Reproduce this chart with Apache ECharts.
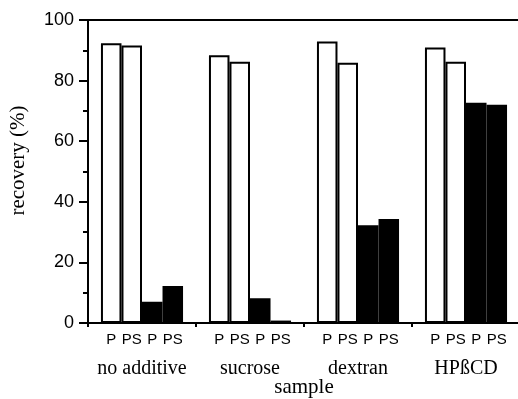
<!DOCTYPE html>
<html>
<head>
<meta charset="utf-8">
<script src="https://cdn.jsdelivr.net/npm/echarts@6/dist/echarts.min.js"></script>
<style>html,body{margin:0;padding:0;background:#fff;}#c{width:518px;height:399px;}</style>
</head>
<body>
<div id="c"></div>
<script>
const categories = ['no additive', 'sucrose', 'dextran', 'HPßCD'];
const barLabels = ['P', 'PS', 'P', 'PS'];
const pWhite = [92.3, 88.4, 92.9, 90.9];
const psWhite = [91.6, 86.2, 85.9, 86.2];
const pBlack = [7.0, 8.2, 32.3, 72.7];
const psBlack = [12.2, 0.8, 34.3, 72.0];
const yTicks = [0, 20, 40, 60, 80, 100];

const seriesValues = [pWhite, psWhite, pBlack, psBlack];
const fills = ['#ffffff', '#ffffff', '#000000', '#000000'];

const chart = echarts.init(document.getElementById('c'), null, {renderer: 'canvas'});
chart.setOption({
  backgroundColor: '#ffffff',
  animation: false,
  grid: {left: 88, top: 20, right: -2, bottom: 76, containLabel: false, outerBoundsMode: 'none'},
  xAxis: [{
    type: 'category',
    data: categories,
    name: 'sample',
    nameLocation: 'middle',
    nameGap: 54,
    nameMoveOverlap: false,
    nameTextStyle: {fontFamily: 'Liberation Serif', fontSize: 21, color: '#000'},
    axisLine: {lineStyle: {color: '#000', width: 2}},
    axisTick: {show: true, length: 4, lineStyle: {color: '#000', width: 2}},
    axisLabel: {fontFamily: 'Liberation Serif', fontSize: 20, color: '#000', margin: 36, interval: 0, hideOverlap: false},
    splitLine: {show: false}
  }, {
    type: 'category',
    data: categories,
    position: 'top',
    axisLine: {lineStyle: {color: '#000', width: 2}},
    axisTick: {show: false},
    axisLabel: {show: false}
  }],
  yAxis: {
    type: 'value',
    min: 0, max: 100, interval: 20,
    name: 'recovery (%)',
    nameLocation: 'middle',
    nameGap: 59,
    nameMoveOverlap: false,
    nameTextStyle: {fontFamily: 'Liberation Serif', fontSize: 21, color: '#000', padding: [0, 0, 0, 22]},
    axisLine: {show: true, lineStyle: {color: '#000', width: 2}},
    axisTick: {show: true, inside: false, length: 9, lineStyle: {color: '#000', width: 2}},
    minorTick: {show: true, splitNumber: 2, length: 5, lineStyle: {color: '#000', width: 2}},
    axisLabel: {
      fontFamily: 'Liberation Sans', fontSize: 18, color: '#000', margin: 14,
      formatter: v => yTicks.includes(v) ? String(v) : ''
    },
    splitLine: {show: false}
  },
  series: seriesValues.map((vals, i) => ({
    type: 'bar',
    name: barLabels[i] + i,
    data: vals,
    barGap: '0%',
    barCategoryGap: '24%',
    itemStyle: {color: fills[i], borderColor: '#000', borderWidth: 2},
    label: {
      show: true,
      position: 'bottom',
      distance: 9,
      formatter: () => barLabels[i],
      fontFamily: 'Liberation Sans', fontSize: 15, color: '#000'
    }
  }))
});
</script>
</body>
</html>
